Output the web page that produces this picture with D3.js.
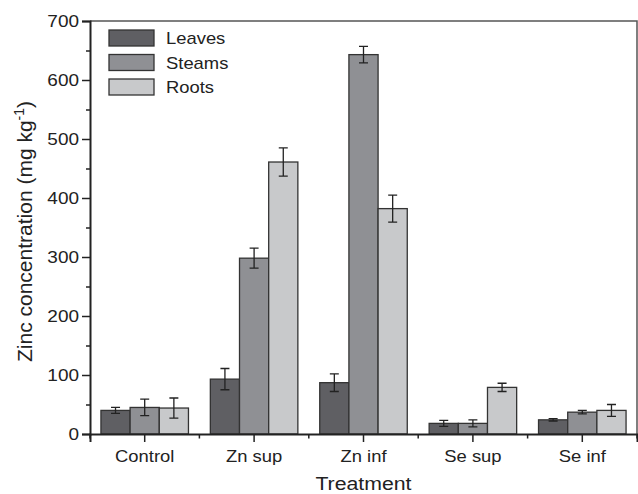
<!DOCTYPE html>
<html>
<head>
<meta charset="utf-8">
<script src="https://cdn.jsdelivr.net/npm/d3@7"></script>
<style>
  body { margin: 0; background: #fff; }
  svg text { font-family: "Liberation Sans", Arial, sans-serif; fill: #222; }
  .wide { transform-box: fill-box; transform: scaleX(1.15); }
  .wide-c { transform-origin: center; }
  .wide-r { transform-origin: right; }
  .wide-l { transform-origin: left; }
</style>
</head>
<body>
<div class="chart"></div>
<script>
// data
var treatments = ["Control", "Zn sup", "Zn inf", "Se sup", "Se inf"];
var parts = ["Leaves", "Steams", "Roots"];
var leaves     = [40, 93, 87, 18, 24];
var leavesErr  = [5, 18, 15, 5, 2];
var steams     = [45, 298, 643, 18, 37];
var steamsErr  = [14, 17, 14, 6, 3];
var roots      = [44, 461, 382, 79, 40];
var rootsErr   = [17, 24, 23, 7, 10];
var yTicks = [0, 100, 200, 300, 400, 500, 600, 700];
var partColors = ["#5f5f63", "#8f9094", "#c8c9cb"];

var W = 638, H = 494;
var margin = { top: 21, right: 1, bottom: 60, left: 90 },
    width = W - margin.left - margin.right,
    height = H - margin.top - margin.bottom;

var svg = d3.select(".chart")
    .append("svg")
    .attr("width", W)
    .attr("height", H)
    .append("g")
    .attr("transform", "translate(" + margin.left + "," + margin.top + ")");

var x = d3.scaleBand().domain(treatments).range([0, width]);
var xPart = d3.scaleBand().domain(parts).range([x.bandwidth() * 0.1, x.bandwidth() * 0.9]);
var y = d3.scaleLinear().domain([0, 700]).range([height, 0]);

// frame (top/right)
svg.append("path")
    .attr("d", "M0,0H" + width + "V" + height)
    .attr("fill", "none")
    .attr("stroke", "#555")
    .attr("stroke-width", 1.5);

var series = [
  { name: "Leaves", vals: leaves, errs: leavesErr },
  { name: "Steams", vals: steams, errs: steamsErr },
  { name: "Roots", vals: roots, errs: rootsErr }
];

series.forEach(function(s, si) {
  var rows = treatments.map(function(t, i) { return { t: t, v: s.vals[i], e: s.errs[i] }; });
  var g = svg.append("g");

  g.selectAll("rect")
    .data(rows)
    .enter()
    .append("rect")
      .attr("x", function(d) { return x(d.t) + xPart(s.name); })
      .attr("y", function(d) { return y(d.v); })
      .attr("width", xPart.bandwidth())
      .attr("height", function(d) { return y(0) - y(d.v); })
      .attr("fill", partColors[si])
      .attr("stroke", "#333")
      .attr("stroke-width", 1.3);

  // error bars
  g.selectAll(".err")
    .data(rows)
    .enter()
    .append("path")
      .attr("class", "err")
      .attr("d", function(d) {
        var cx = x(d.t) + xPart(s.name) + xPart.bandwidth() / 2;
        var t = y(d.v + d.e), b = y(d.v - d.e);
        return "M" + (cx - 4.5) + "," + t + "H" + (cx + 4.5) +
               "M" + cx + "," + t + "V" + b +
               "M" + (cx - 4.5) + "," + b + "H" + (cx + 4.5);
      })
      .attr("fill", "none")
      .attr("stroke", "#222")
      .attr("stroke-width", 1.3);
});

// Y axis
var yAxis = svg.append("g")
    .call(d3.axisLeft(y).tickValues(yTicks).tickSize(8).tickPadding(3));
svg.append("g")
    .call(d3.axisLeft(y).tickValues(d3.range(50, 700, 100)).tickSize(4).tickFormat(""))
    .select(".domain").remove();
yAxis.selectAll("text").attr("class", "wide wide-r").style("font-size", "16.5px");

// X axis
var xAxis = svg.append("g")
    .attr("transform", "translate(0," + height + ")")
    .call(d3.axisBottom(x).tickSize(8).tickPadding(9));
xAxis.selectAll("text").attr("class", "wide wide-c").style("font-size", "16px");

var bounds = treatments.map(function(t) { return x(t); }).concat([width]);
svg.append("g")
    .attr("transform", "translate(0," + height + ")")
    .selectAll("line")
    .data(bounds)
    .enter()
    .append("line")
      .attr("x1", function(d) { return d; })
      .attr("x2", function(d) { return d; })
      .attr("y1", 0)
      .attr("y2", 4.5)
      .attr("stroke", "#222")
      .attr("stroke-width", 1.5);

[xAxis, yAxis].forEach(function(a) {
  a.select(".domain").attr("stroke", "#222").attr("stroke-width", 2);
  a.selectAll("text").style("fill", "#222");
});
svg.selectAll(".tick line").attr("stroke", "#222").attr("stroke-width", 1.5);

// axis titles
svg.append("text")
    .attr("class", "wide wide-c")
    .attr("x", width / 2)
    .attr("y", height + 56)
    .attr("text-anchor", "middle")
    .style("font-size", "18.5px")
    .text("Treatment");

var yl = svg.append("text")
    .attr("transform", "translate(" + (-58) + "," + (231.5 - margin.top) + ") rotate(-90)")
    .attr("text-anchor", "middle")
    .style("font-size", "21px");
yl.append("tspan").text("Zinc concentration (mg kg");
yl.append("tspan").attr("dy", -8).style("font-size", "14px").text("-1");
yl.append("tspan").attr("dy", 8).text(")");

// legend
var legend = svg.append("g").attr("transform", "translate(19,9)");
parts.forEach(function(p, i) {
  var row = legend.append("g").attr("transform", "translate(0," + (i * 24.5) + ")");
  row.append("rect")
    .attr("width", 45)
    .attr("height", 16)
    .attr("fill", partColors[i])
    .attr("stroke", "#333")
    .attr("stroke-width", 1.3);
  row.append("text")
    .attr("class", "wide wide-l")
    .attr("x", 57)
    .attr("y", 14)
    .style("font-size", "16px")
    .text(p);
});
</script>
</body>
</html>
